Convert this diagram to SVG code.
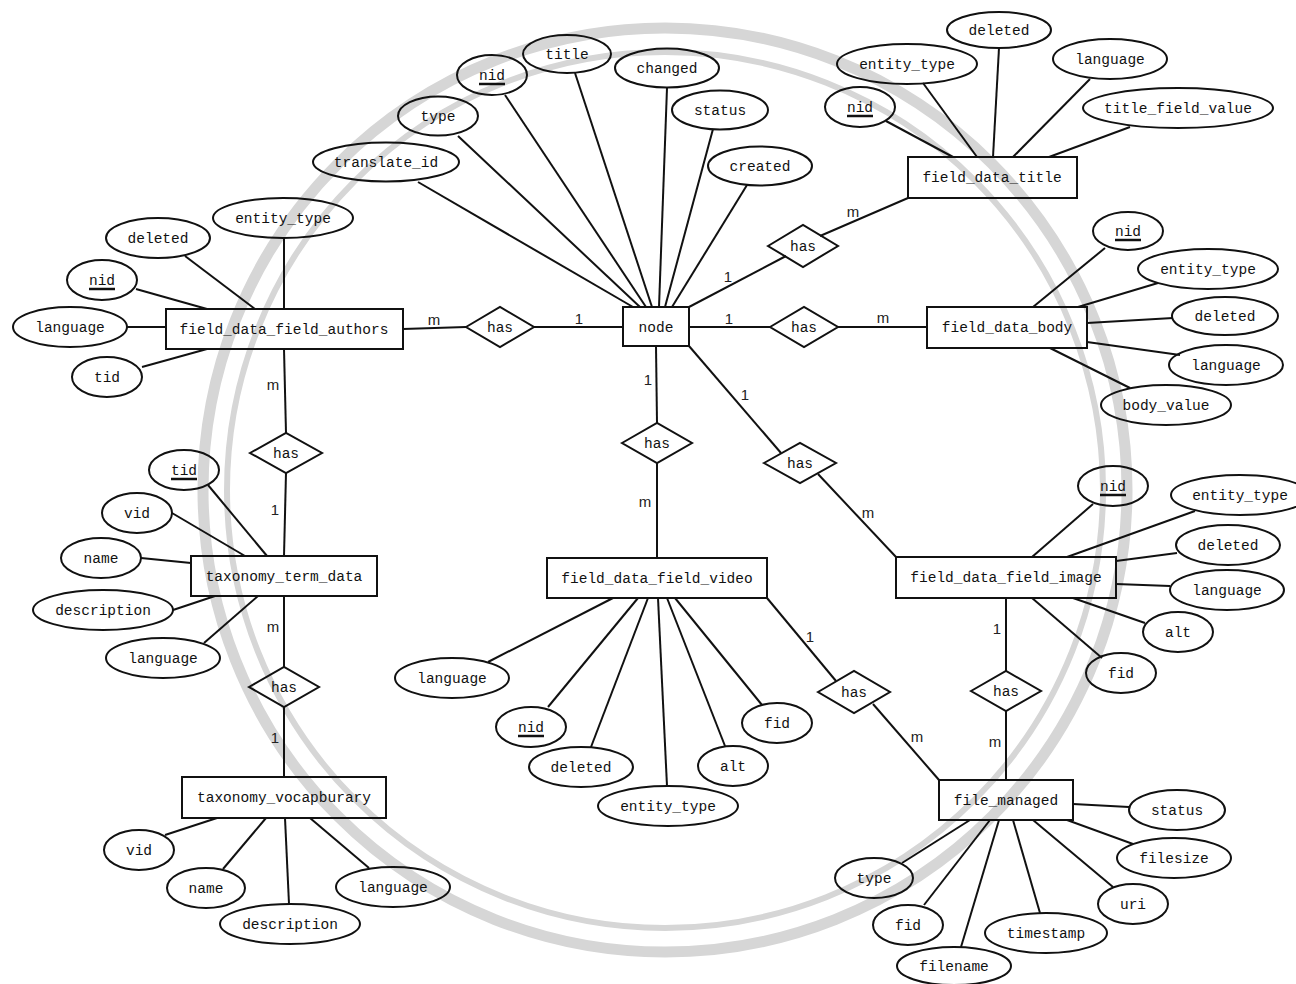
<svg xmlns="http://www.w3.org/2000/svg" width="1296" height="984" viewBox="0 0 1296 984">
<style>
.bg{fill:#fff}
.wm{fill:none;stroke:#d6d6d6}
.l{stroke:#111;stroke-width:2;fill:none}
.s{fill:none;stroke:#111;stroke-width:2}
.t{font-family:"Liberation Mono","Courier New",monospace;font-size:14.5px;fill:#111;text-anchor:middle}
.c{font-family:"Liberation Sans",Arial,sans-serif;font-size:15px;fill:#222;text-anchor:middle}
.u{stroke:#111;stroke-width:2.5}
</style>
<rect class="bg" x="0" y="0" width="1296" height="984"/>
<g id="watermark">
<circle class="wm" cx="665" cy="490" r="462" stroke-width="11"/>
<circle class="wm" cx="665" cy="490" r="438" stroke-width="6"/>
</g>
<g id="connectors">
<line class="l" x1="403" y1="329" x2="466" y2="327"/>
<line class="l" x1="534" y1="327" x2="623" y2="327"/>
<line class="l" x1="689" y1="307" x2="786" y2="256"/>
<line class="l" x1="820" y1="236" x2="908" y2="198"/>
<line class="l" x1="689" y1="327" x2="770" y2="327"/>
<line class="l" x1="838" y1="327" x2="927" y2="327"/>
<line class="l" x1="656" y1="346" x2="657" y2="423"/>
<line class="l" x1="657" y1="463" x2="657" y2="558"/>
<line class="l" x1="689" y1="346" x2="781" y2="453"/>
<line class="l" x1="818" y1="474" x2="896" y2="557"/>
<line class="l" x1="284" y1="349" x2="286" y2="433"/>
<line class="l" x1="286" y1="473" x2="284" y2="556"/>
<line class="l" x1="284" y1="596" x2="284" y2="667"/>
<line class="l" x1="284" y1="707" x2="284" y2="777"/>
<line class="l" x1="767" y1="598" x2="836" y2="681"/>
<line class="l" x1="873" y1="704" x2="939" y2="780"/>
<line class="l" x1="1006" y1="598" x2="1006" y2="671"/>
<line class="l" x1="1006" y1="711" x2="1006" y2="780"/>
<line class="l" x1="418" y1="182" x2="633" y2="307"/>
<line class="l" x1="458" y1="136" x2="640" y2="307"/>
<line class="l" x1="505" y1="95" x2="646" y2="307"/>
<line class="l" x1="575" y1="73" x2="652" y2="307"/>
<line class="l" x1="667" y1="88" x2="659" y2="307"/>
<line class="l" x1="713" y1="129" x2="665" y2="307"/>
<line class="l" x1="747" y1="185" x2="672" y2="307"/>
<line class="l" x1="284" y1="238" x2="284" y2="309"/>
<line class="l" x1="185" y1="256" x2="255" y2="309"/>
<line class="l" x1="136" y1="289" x2="207" y2="309"/>
<line class="l" x1="127" y1="327" x2="166" y2="327"/>
<line class="l" x1="142" y1="367" x2="207" y2="349"/>
<line class="l" x1="208" y1="485" x2="267" y2="556"/>
<line class="l" x1="172" y1="513" x2="245" y2="556"/>
<line class="l" x1="141" y1="558" x2="191" y2="563"/>
<line class="l" x1="173" y1="610" x2="215" y2="596"/>
<line class="l" x1="204" y1="643" x2="258" y2="596"/>
<line class="l" x1="165" y1="835" x2="217" y2="818"/>
<line class="l" x1="223" y1="869" x2="266" y2="818"/>
<line class="l" x1="289" y1="904" x2="285" y2="818"/>
<line class="l" x1="369" y1="868" x2="310" y2="818"/>
<line class="l" x1="886" y1="121" x2="953" y2="157"/>
<line class="l" x1="923" y1="83" x2="977" y2="157"/>
<line class="l" x1="999" y1="48" x2="993" y2="157"/>
<line class="l" x1="1090" y1="79" x2="1013" y2="157"/>
<line class="l" x1="1130" y1="127" x2="1049" y2="157"/>
<line class="l" x1="1105" y1="248" x2="1033" y2="307"/>
<line class="l" x1="1158" y1="283" x2="1078" y2="307"/>
<line class="l" x1="1173" y1="318" x2="1087" y2="323"/>
<line class="l" x1="1180" y1="355" x2="1087" y2="342"/>
<line class="l" x1="1130" y1="388" x2="1050" y2="348"/>
<line class="l" x1="488" y1="662" x2="613" y2="598"/>
<line class="l" x1="548" y1="707" x2="638" y2="598"/>
<line class="l" x1="591" y1="747" x2="648" y2="598"/>
<line class="l" x1="667" y1="786" x2="658" y2="598"/>
<line class="l" x1="725" y1="746" x2="667" y2="598"/>
<line class="l" x1="762" y1="705" x2="675" y2="598"/>
<line class="l" x1="1093" y1="504" x2="1032" y2="557"/>
<line class="l" x1="1195" y1="511" x2="1067" y2="557"/>
<line class="l" x1="1177" y1="553" x2="1116" y2="561"/>
<line class="l" x1="1170" y1="586" x2="1116" y2="584"/>
<line class="l" x1="1145" y1="623" x2="1073" y2="598"/>
<line class="l" x1="1102" y1="658" x2="1032" y2="598"/>
<line class="l" x1="1129" y1="807" x2="1073" y2="804"/>
<line class="l" x1="1133" y1="844" x2="1067" y2="820"/>
<line class="l" x1="1113" y1="887" x2="1033" y2="820"/>
<line class="l" x1="1040" y1="913" x2="1013" y2="820"/>
<line class="l" x1="961" y1="947" x2="999" y2="820"/>
<line class="l" x1="924" y1="905" x2="990" y2="820"/>
<line class="l" x1="902" y1="863" x2="970" y2="820"/>
<text class="c" x="434" y="325">m</text>
<text class="c" x="579" y="324">1</text>
<text class="c" x="728" y="282">1</text>
<text class="c" x="853" y="217">m</text>
<text class="c" x="729" y="324">1</text>
<text class="c" x="883" y="323">m</text>
<text class="c" x="648" y="385">1</text>
<text class="c" x="645" y="507">m</text>
<text class="c" x="745" y="400">1</text>
<text class="c" x="868" y="518">m</text>
<text class="c" x="273" y="390">m</text>
<text class="c" x="275" y="515">1</text>
<text class="c" x="273" y="632">m</text>
<text class="c" x="275" y="743">1</text>
<text class="c" x="810" y="642">1</text>
<text class="c" x="917" y="742">m</text>
<text class="c" x="997" y="634">1</text>
<text class="c" x="995" y="747">m</text>
</g>
<g id="e-node"><rect class="s" x="623" y="307" width="66" height="39"/><text class="t" x="656" y="332">node</text></g>
<g id="e-authors"><rect class="s" x="166" y="309" width="237" height="40"/><text class="t" x="284" y="334">field_data_field_authors</text></g>
<g id="e-title"><rect class="s" x="908" y="157" width="169" height="41"/><text class="t" x="992" y="182">field_data_title</text></g>
<g id="e-body"><rect class="s" x="927" y="307" width="160" height="41"/><text class="t" x="1007" y="332">field_data_body</text></g>
<g id="e-taxterm"><rect class="s" x="191" y="556" width="186" height="40"/><text class="t" x="284" y="581">taxonomy_term_data</text></g>
<g id="e-taxvocab"><rect class="s" x="182" y="777" width="204" height="41"/><text class="t" x="284" y="802">taxonomy_vocapburary</text></g>
<g id="e-video"><rect class="s" x="547" y="558" width="220" height="40"/><text class="t" x="657" y="583">field_data_field_video</text></g>
<g id="e-image"><rect class="s" x="896" y="557" width="220" height="41"/><text class="t" x="1006" y="582">field_data_field_image</text></g>
<g id="e-file"><rect class="s" x="939" y="780" width="134" height="40"/><text class="t" x="1006" y="805">file_managed</text></g>
<g id="r-authors"><polygon class="s" points="466,327 500,307 534,327 500,347"/><text class="t" x="500" y="332">has</text></g>
<g id="r-title"><polygon class="s" points="768,246 803,225 838,246 803,267"/><text class="t" x="803" y="251">has</text></g>
<g id="r-body"><polygon class="s" points="770,327 804,307 838,327 804,347"/><text class="t" x="804" y="332">has</text></g>
<g id="r-video"><polygon class="s" points="622,443 657,423 692,443 657,463"/><text class="t" x="657" y="448">has</text></g>
<g id="r-image"><polygon class="s" points="764,463 800,443 836,463 800,483"/><text class="t" x="800" y="468">has</text></g>
<g id="r-taxterm"><polygon class="s" points="250,453 286,433 322,453 286,473"/><text class="t" x="286" y="458">has</text></g>
<g id="r-taxvocab"><polygon class="s" points="249,687 284,667 319,687 284,707"/><text class="t" x="284" y="692">has</text></g>
<g id="r-videofile"><polygon class="s" points="818,692 854,671 890,692 854,713"/><text class="t" x="854" y="697">has</text></g>
<g id="r-imagefile"><polygon class="s" points="971,691 1006,671 1041,691 1006,711"/><text class="t" x="1006" y="696">has</text></g>
<g id="a-node">
<ellipse class="s" cx="386" cy="162" rx="73" ry="19.5"/><text class="t" x="386" y="167">translate_id</text>
<ellipse class="s" cx="438" cy="116" rx="40" ry="19.5"/><text class="t" x="438" y="121">type</text>
<ellipse class="s" cx="492" cy="75" rx="35" ry="20"/><text class="t" x="492" y="80">nid</text><line class="u" x1="479" y1="84" x2="505" y2="84"/>
<ellipse class="s" cx="567" cy="54" rx="44" ry="19"/><text class="t" x="567" y="59">title</text>
<ellipse class="s" cx="667" cy="68" rx="52" ry="19.5"/><text class="t" x="667" y="73">changed</text>
<ellipse class="s" cx="720" cy="110" rx="48" ry="19.5"/><text class="t" x="720" y="115">status</text>
<ellipse class="s" cx="760" cy="166" rx="52" ry="19.5"/><text class="t" x="760" y="171">created</text>
</g>
<g id="a-authors">
<ellipse class="s" cx="283" cy="218" rx="70" ry="20"/><text class="t" x="283" y="223">entity_type</text>
<ellipse class="s" cx="158" cy="238" rx="52" ry="20"/><text class="t" x="158" y="243">deleted</text>
<ellipse class="s" cx="102" cy="280" rx="35" ry="20"/><text class="t" x="102" y="285">nid</text><line class="u" x1="89" y1="289" x2="115" y2="289"/>
<ellipse class="s" cx="70" cy="327" rx="57" ry="20"/><text class="t" x="70" y="332">language</text>
<ellipse class="s" cx="107" cy="377" rx="35" ry="20"/><text class="t" x="107" y="382">tid</text>
</g>
<g id="a-taxterm">
<ellipse class="s" cx="184" cy="470" rx="35" ry="20"/><text class="t" x="184" y="475">tid</text><line class="u" x1="171" y1="479" x2="197" y2="479"/>
<ellipse class="s" cx="137" cy="513" rx="35" ry="20"/><text class="t" x="137" y="518">vid</text>
<ellipse class="s" cx="101" cy="558" rx="40" ry="20"/><text class="t" x="101" y="563">name</text>
<ellipse class="s" cx="103" cy="610" rx="70" ry="20"/><text class="t" x="103" y="615">description</text>
<ellipse class="s" cx="163" cy="658" rx="57" ry="20"/><text class="t" x="163" y="663">language</text>
</g>
<g id="a-taxvocab">
<ellipse class="s" cx="139" cy="850" rx="35" ry="20"/><text class="t" x="139" y="855">vid</text>
<ellipse class="s" cx="206" cy="888" rx="39" ry="20"/><text class="t" x="206" y="893">name</text>
<ellipse class="s" cx="290" cy="924" rx="70" ry="20"/><text class="t" x="290" y="929">description</text>
<ellipse class="s" cx="393" cy="887" rx="57" ry="20"/><text class="t" x="393" y="892">language</text>
</g>
<g id="a-title">
<ellipse class="s" cx="860" cy="107" rx="35" ry="20"/><text class="t" x="860" y="112">nid</text><line class="u" x1="847" y1="116" x2="873" y2="116"/>
<ellipse class="s" cx="907" cy="64" rx="70" ry="20"/><text class="t" x="907" y="69">entity_type</text>
<ellipse class="s" cx="999" cy="30" rx="52" ry="18"/><text class="t" x="999" y="35">deleted</text>
<ellipse class="s" cx="1110" cy="59" rx="57" ry="20"/><text class="t" x="1110" y="64">language</text>
<ellipse class="s" cx="1178" cy="108" rx="95" ry="20"/><text class="t" x="1178" y="113">title_field_value</text>
</g>
<g id="a-body">
<ellipse class="s" cx="1128" cy="231" rx="35" ry="19"/><text class="t" x="1128" y="236">nid</text><line class="u" x1="1115" y1="240" x2="1141" y2="240"/>
<ellipse class="s" cx="1208" cy="269" rx="70" ry="20"/><text class="t" x="1208" y="274">entity_type</text>
<ellipse class="s" cx="1225" cy="316" rx="53" ry="19"/><text class="t" x="1225" y="321">deleted</text>
<ellipse class="s" cx="1226" cy="365" rx="57" ry="20"/><text class="t" x="1226" y="370">language</text>
<ellipse class="s" cx="1166" cy="405" rx="65" ry="20"/><text class="t" x="1166" y="410">body_value</text>
</g>
<g id="a-video">
<ellipse class="s" cx="452" cy="678" rx="57" ry="20"/><text class="t" x="452" y="683">language</text>
<ellipse class="s" cx="531" cy="727" rx="35" ry="20"/><text class="t" x="531" y="732">nid</text><line class="u" x1="518" y1="736" x2="544" y2="736"/>
<ellipse class="s" cx="581" cy="767" rx="52" ry="20"/><text class="t" x="581" y="772">deleted</text>
<ellipse class="s" cx="668" cy="806" rx="70" ry="20"/><text class="t" x="668" y="811">entity_type</text>
<ellipse class="s" cx="733" cy="766" rx="35" ry="20"/><text class="t" x="733" y="771">alt</text>
<ellipse class="s" cx="777" cy="723" rx="35" ry="20"/><text class="t" x="777" y="728">fid</text>
</g>
<g id="a-image">
<ellipse class="s" cx="1113" cy="486" rx="35" ry="20"/><text class="t" x="1113" y="491">nid</text><line class="u" x1="1100" y1="495" x2="1126" y2="495"/>
<ellipse class="s" cx="1240" cy="495" rx="69" ry="20"/><text class="t" x="1240" y="500">entity_type</text>
<ellipse class="s" cx="1228" cy="545" rx="52" ry="20"/><text class="t" x="1228" y="550">deleted</text>
<ellipse class="s" cx="1227" cy="590" rx="57" ry="20"/><text class="t" x="1227" y="595">language</text>
<ellipse class="s" cx="1178" cy="632" rx="35" ry="20"/><text class="t" x="1178" y="637">alt</text>
<ellipse class="s" cx="1121" cy="673" rx="35" ry="20"/><text class="t" x="1121" y="678">fid</text>
</g>
<g id="a-file">
<ellipse class="s" cx="1177" cy="810" rx="48" ry="20"/><text class="t" x="1177" y="815">status</text>
<ellipse class="s" cx="1174" cy="858" rx="57" ry="20"/><text class="t" x="1174" y="863">filesize</text>
<ellipse class="s" cx="1133" cy="904" rx="35" ry="20"/><text class="t" x="1133" y="909">uri</text>
<ellipse class="s" cx="1046" cy="933" rx="61" ry="20"/><text class="t" x="1046" y="938">timestamp</text>
<ellipse class="s" cx="954" cy="966" rx="57" ry="19"/><text class="t" x="954" y="971">filename</text>
<ellipse class="s" cx="908" cy="925" rx="35" ry="20"/><text class="t" x="908" y="930">fid</text>
<ellipse class="s" cx="874" cy="878" rx="39" ry="20"/><text class="t" x="874" y="883">type</text>
</g>
</svg>
